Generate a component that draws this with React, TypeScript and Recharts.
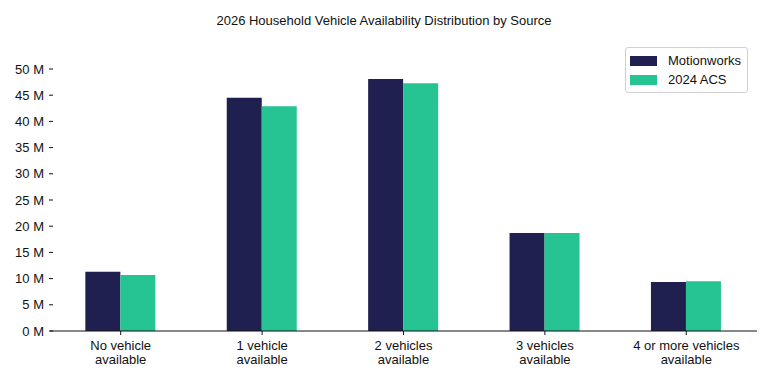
import React from "react";
import { BarChart, Bar, XAxis, YAxis } from "recharts";

const categories = ["No vehicle\navailable", "1 vehicle\navailable", "2 vehicles\navailable", "3 vehicles\navailable", "4 or more vehicles\navailable"];
const motionworks = [11.3, 44.5, 48.1, 18.7, 9.35];
const acs2024 = [10.7, 42.9, 47.3, 18.7, 9.5];
const yTicks = [0, 5, 10, 15, 20, 25, 30, 35, 40, 45, 50];
const seriesNames = ["Motionworks", "2024 ACS"];
const colors = ["#1f1f50", "#26c493"];

const data = categories.map((c, i) => ({ cat: c, m: motionworks[i], a: acs2024[i] }));

const FONT = "'Liberation Sans', Arial, sans-serif";

const YTick = (props: any) => {
  const { x, y, payload } = props;
  return (
    <g>
      <text x={x} y={y} dy={4.5} textAnchor="end" fontSize={13} fontFamily={FONT} fill="#111">
        {`${payload.value} M`}
      </text>
      <line x1={x + 5} x2={x + 9} y1={y} y2={y} stroke="#111" strokeWidth={1} />
    </g>
  );
};

const XTick = (props: any) => {
  const { x, y, payload } = props;
  const lines = String(payload.value).split("\n");
  return (
    <g>
      {lines.map((l, i) => (
        <text key={i} x={x} y={y + 13 + i * 14} textAnchor="middle" fontSize={13} fontFamily={FONT} fill="#111">
          {l}
        </text>
      ))}
    </g>
  );
};

export default function App() {
  return (
    <div style={{ width: 760, height: 376, position: "relative" }}>
      <div
        style={{
          position: "absolute",
          top: 5,
          left: 0,
          width: 752,
          textAlign: "center",
          fontFamily: FONT,
          fontSize: 13,
          color: "#111",
        }}
      >
        2026 Household Vehicle Availability Distribution by Source
      </div>
      <div
        style={{
          position: "absolute",
          left: 617,
          top: 39,
          width: 123,
          border: "1px solid #d0d0d0",
          borderRadius: 3,
          background: "#fff",
          padding: "3px 4px",
          fontFamily: FONT,
          fontSize: 13,
          color: "#111",
          boxSizing: "border-box",
          zIndex: 2,
        }}
      >
        {seriesNames.map((n, i) => (
          <div key={n} style={{ display: "flex", alignItems: "center", height: 19 }}>
            <div style={{ width: 27, height: 10, background: colors[i], marginRight: 11 }} />
            <span>{n}</span>
          </div>
        ))}
      </div>
      <BarChart
        width={760}
        height={376}
        data={data}
        margin={{ top: 61, right: 11, bottom: 13, left: 4 }}
        barCategoryGap="25%"
        barGap={0}
      >
        <XAxis
          dataKey="cat"
          tick={<XTick />}
          interval={0}
          height={40}
          stroke="#111"
          tickLine={{ stroke: "#111" }}
          tickSize={4}
        />
        <YAxis
          domain={[0, 50]}
          ticks={yTicks}
          width={38}
          axisLine={false}
          tickLine={false}
          tickSize={0}
          tickMargin={6}
          tick={<YTick />}
          interval={0}
        />
        <Bar dataKey="m" name={seriesNames[0]} fill={colors[0]} isAnimationActive={false} />
        <Bar dataKey="a" name={seriesNames[1]} fill={colors[1]} isAnimationActive={false} />
      </BarChart>
    </div>
  );
}
